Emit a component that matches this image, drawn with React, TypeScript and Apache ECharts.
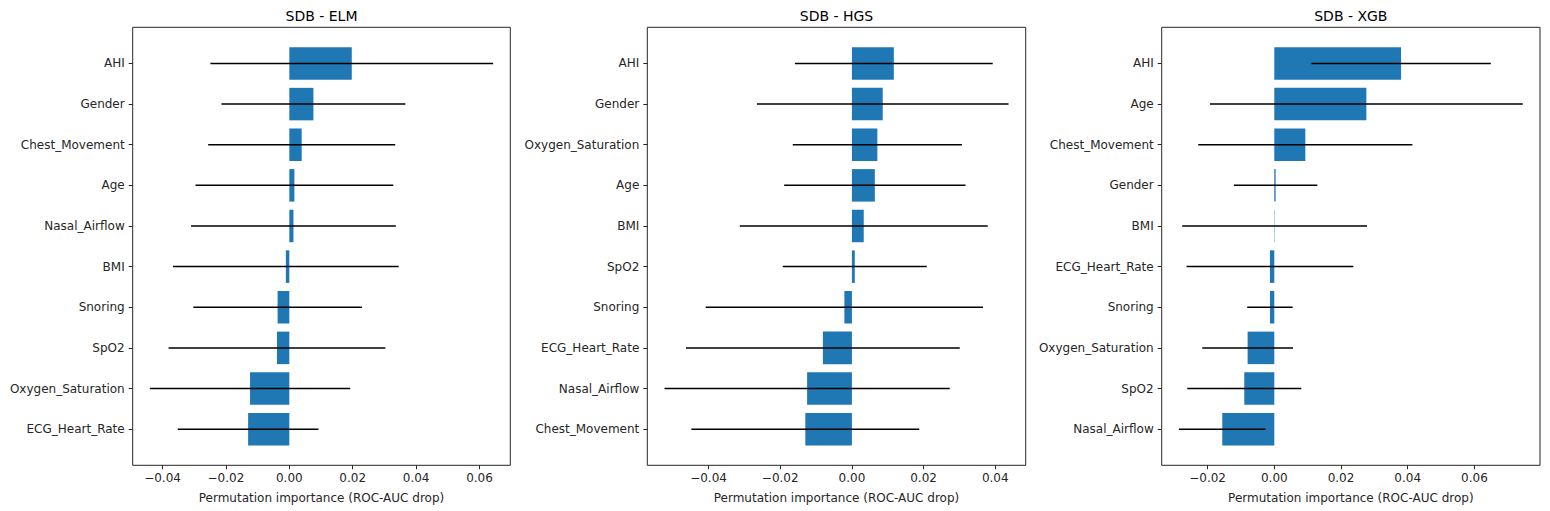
import React, { useEffect, useRef } from "react";
import * as echarts from "echarts";

const elmCategories = ["AHI", "Gender", "Chest_Movement", "Age", "Nasal_Airflow", "BMI", "Snoring", "SpO2", "Oxygen_Saturation", "ECG_Heart_Rate"];
const elmValues = [0.0197, 0.0076, 0.0039, 0.0016, 0.0013, -0.0011, -0.0037, -0.0039, -0.0124, -0.0130];
const elmErrors = [0.0446, 0.0290, 0.0295, 0.0312, 0.0323, 0.0356, 0.0266, 0.0342, 0.0316, 0.0222];

const hgsCategories = ["AHI", "Gender", "Oxygen_Saturation", "Age", "BMI", "SpO2", "Snoring", "ECG_Heart_Rate", "Nasal_Airflow", "Chest_Movement"];
const hgsValues = [0.0117, 0.0086, 0.0071, 0.0064, 0.0033, 0.0008, -0.0021, -0.0081, -0.0125, -0.0130];
const hgsErrors = [0.0276, 0.0351, 0.0236, 0.0253, 0.0346, 0.0201, 0.0387, 0.0382, 0.0398, 0.0318];

const xgbCategories = ["AHI", "Age", "Chest_Movement", "Gender", "BMI", "ECG_Heart_Rate", "Snoring", "Oxygen_Saturation", "SpO2", "Nasal_Airflow"];
const xgbValues = [0.0380, 0.0276, 0.0093, 0.0004, 0.0001, -0.0013, -0.0013, -0.0080, -0.0090, -0.0156];
const xgbErrors = [0.0269, 0.0469, 0.0321, 0.0125, 0.0277, 0.0250, 0.0068, 0.0136, 0.0171, 0.0130];

const titles = ["SDB - ELM", "SDB - HGS", "SDB - XGB"];
const xTicks = [
  [-0.04, -0.02, 0, 0.02, 0.04, 0.06],
  [-0.04, -0.02, 0, 0.02, 0.04],
  [-0.02, 0, 0.02, 0.04, 0.06],
];
const xLabel = "Permutation importance (ROC-AUC drop)";

const panels = [
  { cats: elmCategories, vals: elmValues, errs: elmErrors },
  { cats: hgsCategories, vals: hgsValues, errs: hgsErrors },
  { cats: xgbCategories, vals: xgbValues, errs: xgbErrors },
];

const layout = [
  { left: 132.7, width: 377.6 },
  { left: 647.3, width: 378.4 },
  { left: 1161.7, width: 378.3 },
];
const TOP = 27.3;
const HEIGHT = 438;
const FONT = "DejaVu Sans";

function fmt(v: number) {
  const s = Math.abs(v).toFixed(2);
  return v < -1e-9 ? "\u2212" + s : s;
}

export default function App() {
  const ref = useRef<HTMLDivElement>(null);
  useEffect(() => {
    if (!ref.current) return;
    const chart = echarts.init(ref.current, null, { renderer: "svg" });
    const grids: any[] = [];
    const xAxes: any[] = [];
    const yAxes: any[] = [];
    const series: any[] = [];
    const graphics: any[] = [];
    panels.forEach((p, k) => {
      let lo = 0, hi = 0;
      p.vals.forEach((v, i) => {
        lo = Math.min(lo, v - p.errs[i], v);
        hi = Math.max(hi, v + p.errs[i], v);
      });
      const m = (hi - lo) * 0.05;
      grids.push({
        left: layout[k].left, top: TOP, width: layout[k].width, height: HEIGHT,
        show: true, borderColor: "#262626", borderWidth: 1, backgroundColor: "transparent",
      });
      xAxes.push({
        type: "value", gridIndex: k, min: lo - m, max: hi + m, position: "bottom",
        splitLine: { show: false }, axisLine: { show: false, onZero: false },
        axisTick: { show: true, customValues: xTicks[k], length: 4, lineStyle: { color: "#262626", width: 1 } },
        axisLabel: { customValues: xTicks[k], formatter: (v: number) => fmt(v), color: "#262626", fontFamily: FONT, fontSize: 12, margin: 7 },
        name: xLabel, nameLocation: "middle", nameGap: 27,
        nameTextStyle: { color: "#262626", fontFamily: FONT, fontSize: 12 },
      });
      yAxes.push({
        type: "value", gridIndex: k, inverse: true, min: -0.89, max: 9.89, position: "left",
        splitLine: { show: false }, axisLine: { show: false, onZero: false },
        axisTick: { show: true, customValues: p.cats.map((_, i) => i), length: 4, lineStyle: { color: "#262626", width: 1 } },
        axisLabel: { customValues: p.cats.map((_, i) => i), formatter: (v: number) => p.cats[Math.round(v)] ?? "", color: "#262626", fontFamily: FONT, fontSize: 12, margin: 8 },
      });
      series.push({
        type: "custom", xAxisIndex: k, yAxisIndex: k,
        data: p.vals.map((v, i) => [v, i, p.errs[i]]),
        encode: { x: 0, y: 1 },
        renderItem: (params: any, api: any) => {
          const v = api.value(0), i = api.value(1), e = api.value(2);
          const p0 = api.coord([0, i - 0.4]);
          const p1 = api.coord([v, i + 0.4]);
          const l0 = api.coord([v - e, i]);
          const l1 = api.coord([v + e, i]);
          return {
            type: "group",
            children: [
              { type: "rect", shape: { x: Math.min(p0[0], p1[0]), y: Math.min(p0[1], p1[1]), width: Math.abs(p1[0] - p0[0]), height: Math.abs(p1[1] - p0[1]) }, style: { fill: "#1f77b4" } },
              { type: "line", shape: { x1: l0[0], y1: l0[1], x2: l1[0], y2: l1[1] }, style: { stroke: "#000", lineWidth: 1.5 } },
            ],
          };
        },
      });
      graphics.push({
        type: "text", x: layout[k].left + layout[k].width / 2, y: 15.5,
        style: { text: titles[k], fill: "#000", fontSize: 14, fontFamily: FONT, fontWeight: "normal", align: "center", verticalAlign: "middle" },
      });
    });
    chart.setOption({
      animation: false,
      backgroundColor: "#fff",
      grid: grids, xAxis: xAxes, yAxis: yAxes, series, graphic: graphics,
    });
    return () => chart.dispose();
  }, []);
  return <div ref={ref} style={{ position: "absolute", left: 0, top: 0, width: 1550, height: 511 }} />;
}
